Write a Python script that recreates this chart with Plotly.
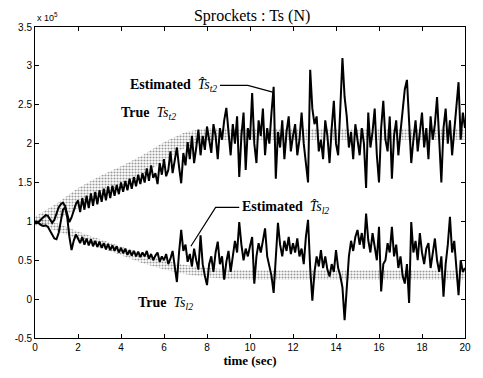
import numpy as np
import plotly.graph_objects as go

# time grid of the estimated signals (s)
time = np.round(np.arange(0, 20.0001, 0.1), 1)

# Estimated Ts_t2 (x 1e5 N)
est_t2 = [0.97, 0.98, 1.00, 1.03, 1.06, 1.08, 1.07, 1.02, 0.98, 1.02, 1.10, 1.18, 1.22, 1.24, 1.20, 1.08, 0.99, 1.05, 1.15, 1.22, 1.27,
          1.12, 1.30, 1.15, 1.33, 1.17, 1.36, 1.20, 1.38, 1.22, 1.40, 1.25, 1.42, 1.27, 1.45, 1.30, 1.46, 1.33, 1.47, 1.35, 1.50,
          1.38, 1.52, 1.40, 1.55, 1.42, 1.57, 1.45, 1.60, 1.48, 1.62,
          1.50, 1.68, 1.52, 1.72, 1.56, 1.62, 1.48, 1.75, 1.60, 1.80, 1.58, 1.66, 1.90, 1.62, 1.78, 1.95, 1.70, 1.49, 1.88, 1.72,
          2.02, 1.80, 2.10, 1.75, 1.95, 2.18, 1.85, 2.10, 1.92, 2.22,
          2.05, 1.88, 2.25, 2.10, 1.80, 2.20, 2.05, 2.30, 2.46, 2.10,
          1.85, 2.25, 2.00, 2.35, 1.57, 2.10, 2.40, 1.66, 2.20, 2.05,
          2.65, 2.00, 1.75, 2.30, 2.10, 2.45, 1.85, 2.20, 2.00, 2.40,
          2.73, 1.55, 2.15, 1.95, 2.30, 1.80, 2.15, 2.35, 1.90, 2.10,
          2.25, 1.85, 2.05, 2.40, 2.00, 1.75, 1.50, 2.95, 2.45, 2.25,
          2.35, 1.90, 2.05, 1.80, 2.30, 2.10, 1.75, 2.20, 2.55, 2.00,
          1.85, 2.45, 3.10, 2.60, 2.35, 1.95, 2.15, 1.80, 2.25, 2.05,
          1.85, 2.20, 2.00, 1.43, 2.40, 1.95, 2.15, 2.45, 1.85, 1.50,
          2.20, 2.55, 2.05, 1.90, 2.35, 1.55, 2.10, 2.30, 1.85, 2.15,
          2.40, 2.70, 2.82, 2.20, 1.75, 2.05, 2.30, 1.90, 2.15, 2.40,
          1.95, 2.20, 1.80, 2.35, 2.05, 2.25, 2.60, 1.95, 1.50, 2.20,
          2.45, 2.00, 2.30, 1.85, 2.15, 2.55, 2.79, 2.05, 2.40, 2.20]

# Estimated Ts_l2 (x 1e5 N)
est_l2 = [1.00, 0.99, 0.97, 0.95, 0.94, 0.95, 0.93, 0.88, 0.82, 0.78, 0.77, 0.85, 1.00, 1.15, 1.18, 1.05, 0.80, 0.63, 0.75, 0.83, 0.78,
          0.72, 0.80, 0.70, 0.78, 0.69, 0.77, 0.68, 0.75, 0.67, 0.74, 0.66, 0.72, 0.64, 0.71, 0.63, 0.69, 0.62, 0.68, 0.60, 0.66,
          0.59, 0.65, 0.57, 0.63, 0.56, 0.62, 0.55, 0.61, 0.54, 0.60,
          0.55, 0.62, 0.52, 0.58, 0.50, 0.56, 0.60, 0.48, 0.55, 0.50, 0.58, 0.45, 0.52, 0.62, 0.40, 0.22, 0.60, 0.89, 0.62, 0.70,
          0.48, 0.58, 0.42, 0.65, 0.50, 0.38, 0.82, 0.45, 0.30, 0.18,
          0.45, 0.55, 0.35, 0.60, 0.74, 0.45, 0.55, 0.25, 0.48, 0.62,
          0.35, 0.55, 0.75, 0.60, 0.99, 0.70, 0.50, 0.65, 0.55, 0.68,
          0.80, 0.20, 0.55, 0.72, 0.60, 0.75, 0.91, 0.55, 0.40, 0.30,
          0.08, 0.62, 0.98, 0.70, 0.55, 0.75, 0.62, 0.80, 0.58, 0.72,
          0.60, 0.78, 0.55, 0.65, 0.45, 0.80, 1.02, 0.40, -0.02, 0.35,
          0.55, 0.42, 0.63, 0.40, 0.55, 0.38, 0.29, 0.45, 0.35, 0.63,
          0.40, 0.30, 0.15, -0.27, 0.20, 0.55, 0.75, 0.62, 0.80, 0.89,
          0.70, 0.85, 0.65, 1.10, 0.76, 0.60, 0.85, 0.70, 0.50, 0.93,
          0.10, 0.45, 0.50, 0.72, 0.60, 0.93, 0.55, 0.70, 0.40, 0.55,
          0.30, 0.20, 0.45, -0.05, 0.99, 0.60, 0.75, 0.50, 0.85, 0.60,
          0.45, 0.65, 0.72, 0.40, 0.60, 0.78, 0.50, 0.35, 0.55, 0.03,
          0.45, 0.70, 1.06, 0.60, 0.75, 0.45, 0.05, 0.50, 0.35, 0.40]

# True values (grey band): centre and half spread
true_time = [0, 1, 2, 3, 4, 5, 6, 7, 8, 9, 10, 20]
true_t2 = [1.00, 1.12, 1.30, 1.45, 1.58, 1.72, 1.90, 2.05, 2.12, 2.12, 2.12, 2.12]
true_t2_spread = [0.06, 0.11, 0.13, 0.13, 0.13, 0.13, 0.12, 0.10, 0.08, 0.07, 0.07, 0.07]
true_l2 = [1.00, 0.93, 0.82, 0.72, 0.62, 0.52, 0.44, 0.38, 0.34, 0.32, 0.31, 0.31]
true_l2_spread = [0.04, 0.05, 0.05, 0.05, 0.05, 0.06, 0.06, 0.06, 0.06, 0.06, 0.06, 0.06]

x_ticks = [0, 2, 4, 6, 8, 10, 12, 14, 16, 18, 20]
y_ticks = [-0.5, 0, 0.5, 1, 1.5, 2, 2.5, 3, 3.5]
y_ticktext = ["-0.5", "0", "0.5", "1", "1.5", "2", "2.5", "3", "3.5"]

fig = go.Figure()

pattern = dict(shape=".", fgcolor="#333333", bgcolor="rgba(0,0,0,0)", size=3, solidity=0.4)
for c, s in [(true_t2, true_t2_spread), (true_l2, true_l2_spread)]:
    c = np.array(c); s = np.array(s)
    fig.add_trace(go.Scatter(x=true_time, y=c - s, mode="lines", line=dict(width=0, color="#999"),
                             hoverinfo="skip", showlegend=False))
    fig.add_trace(go.Scatter(x=true_time, y=c + s, mode="lines", line=dict(width=0, color="#999"),
                             fill="tonexty", fillcolor="rgba(210,210,210,0.6)", fillpattern=pattern,
                             hoverinfo="skip", showlegend=False))

for ser in [est_t2, est_l2]:
    fig.add_trace(go.Scatter(x=time, y=ser, mode="lines", line=dict(color="black", width=2),
                             showlegend=False))

serif = "Liberation Serif"
ann_font = dict(family=serif, size=14, color="black")
annotations = [
    dict(x=8.55, y=2.75, text="<b>Estimated</b>  <i>T̂s</i><sub><i>t2</i></sub>", xanchor="right", yanchor="middle", showarrow=False, font=ann_font),
    dict(x=5.3, y=2.39, text="<b>True</b>  <i>Ts</i><sub><i>t2</i></sub>", xanchor="center", yanchor="middle", showarrow=False, font=ann_font),
    dict(x=9.55, y=1.18, text="<b>Estimated</b>  <i>T̂s</i><sub><i>l2</i></sub>", xanchor="left", yanchor="middle", showarrow=False, font=ann_font),
    dict(x=6.07, y=-0.06, text="<b>True</b>  <i>Ts</i><sub><i>l2</i></sub>", xanchor="center", yanchor="middle", showarrow=False, font=ann_font),
    dict(x=0.0, y=1.0, xref="paper", yref="paper", text="x 10<sup>5</sup>", xanchor="left", yanchor="bottom",
         yshift=2, showarrow=False, font=dict(family="Liberation Sans", size=9, color="black")),
]

# leader lines
fig.add_trace(go.Scatter(x=[8.6, 9.9, 11.1], y=[2.75, 2.75, 2.66], mode="lines",
                         line=dict(color="black", width=1.2), showlegend=False, hoverinfo="skip"))
fig.add_trace(go.Scatter(x=[9.5, 8.4, 7.25], y=[1.18, 1.18, 0.68], mode="lines",
                         line=dict(color="black", width=1.2), showlegend=False, hoverinfo="skip"))

fig.update_layout(
    width=483, height=378,
    margin=dict(l=35, r=13, t=27, b=40),
    paper_bgcolor="white", plot_bgcolor="white",
    title=dict(text="Sprockets : Ts (N)", x=0.522, xanchor="center", y=0.975, yanchor="top",
               font=dict(family=serif, size=16, color="black")),
    annotations=annotations,
    font=dict(family="Liberation Sans", size=10, color="black"),
)
fig.update_xaxes(range=[0, 20], tickvals=x_ticks, ticks="inside", ticklen=4, tickcolor="black",
                 showline=True, linecolor="black", linewidth=1, mirror="ticks", showgrid=False, zeroline=False,
                 title=dict(text="<b>time (sec)</b>", font=dict(family=serif, size=13), standoff=2),
                 tickfont=dict(size=10))
fig.update_yaxes(range=[-0.5, 3.5], tickvals=y_ticks, ticktext=y_ticktext, ticks="inside", ticklen=4, tickcolor="black",
                 showline=True, linecolor="black", linewidth=1, mirror="ticks", showgrid=False, zeroline=False,
                 tickfont=dict(size=10))

fig.write_html("out.html")
